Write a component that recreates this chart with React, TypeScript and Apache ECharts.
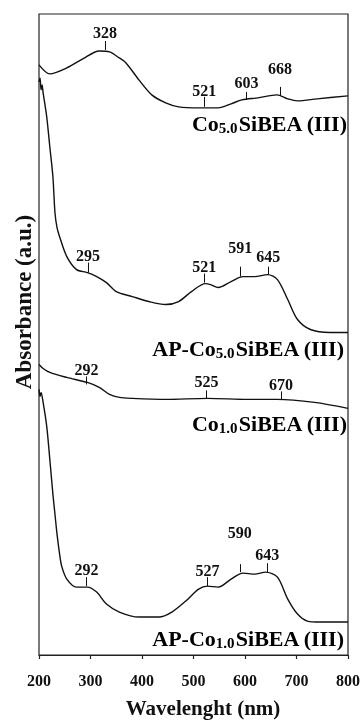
import React, { useEffect, useRef } from 'react';
import * as echarts from 'echarts';

// ---------- data (wavelength nm, absorbance a.u. with vertical offsets) ----------
const co50Wl = [200, 221, 254, 285, 317, 337, 356, 369, 394, 419, 446, 471, 510, 548, 573, 594, 625, 662, 683, 702, 740, 800];
const co50Abs = [2.955, 2.91, 2.94, 2.985, 3.025, 3.02, 2.99, 2.965, 2.88, 2.805, 2.765, 2.745, 2.74, 2.74, 2.76, 2.78, 2.79, 2.805, 2.785, 2.775, 2.785, 2.8];

const apCo50Wl = [200, 202, 204, 206, 208, 215, 221, 227, 231, 235, 240, 254, 273, 294, 312, 331, 350, 381, 413, 446, 471, 496, 523, 533, 548, 573, 596, 619, 644, 663, 683, 702, 727, 765, 800];
const apCo50Abs = [2.87, 2.89, 2.83, 2.855, 2.815, 2.695, 2.545, 2.395, 2.215, 2.14, 2.095, 1.995, 1.93, 1.915, 1.895, 1.865, 1.82, 1.795, 1.77, 1.755, 1.77, 1.82, 1.86, 1.855, 1.84, 1.87, 1.895, 1.895, 1.905, 1.88, 1.78, 1.68, 1.63, 1.615, 1.615];

const co10Wl = [200, 208, 221, 254, 294, 317, 337, 356, 381, 446, 527, 606, 662, 735, 800];
const co10Abs = [1.455, 1.435, 1.415, 1.39, 1.365, 1.34, 1.305, 1.29, 1.285, 1.28, 1.285, 1.28, 1.28, 1.265, 1.235];

const apCo10Wl = [200, 202, 204, 208, 215, 221, 227, 231, 235, 240, 244, 254, 273, 294, 312, 331, 356, 394, 433, 458, 485, 510, 527, 548, 573, 596, 619, 640, 663, 683, 702, 721, 746, 800];
const apCo10Abs = [1.33, 1.295, 1.315, 1.265, 1.145, 0.98, 0.805, 0.705, 0.605, 0.505, 0.445, 0.38, 0.34, 0.34, 0.315, 0.255, 0.215, 0.19, 0.19, 0.215, 0.27, 0.33, 0.345, 0.34, 0.38, 0.41, 0.405, 0.415, 0.39, 0.28, 0.205, 0.17, 0.165, 0.165];

// peak annotations: wavelength, tick low, tick high, label height
const co50Peaks = [328, 521, 603, 668];
const co50TickLow = [3.03, 2.745, 2.78, 2.8];
const co50TickHigh = [3.075, 2.795, 2.82, 2.845];
const co50LabelY = [3.115, 2.825, 2.865, 2.935];

const apCo50Peaks = [295, 521, 591, 645];
const apCo50TickLow = [1.915, 1.865, 1.895, 1.905];
const apCo50TickHigh = [1.965, 1.91, 1.945, 1.945];
const apCo50LabelY = [2.0, 1.945, 2.04, 1.995];

const co10Peaks = [292, 525, 670];
const co10TickLow = [1.355, 1.285, 1.28];
const co10TickHigh = [1.395, 1.325, 1.32];
const co10LabelY = [1.43, 1.37, 1.355];

const apCo10Peaks = [292, 527, 590, 643];
const apCo10TickLow = [0.345, 0.345, 0.415, 0.415];
const apCo10TickHigh = [0.39, 0.39, 0.455, 0.46];
const apCo10LabelY = [0.43, 0.425, 0.615, 0.505];

const xTicks = [200, 300, 400, 500, 600, 700, 800];
const xTitle = 'Wavelenght (nm)';
const yTitle = 'Absorbance (a.u.)';

const FONT = '"Liberation Serif", "Times New Roman", serif';
const INK = '#111';

function curve(wl: number[], abs: number[]) {
  return wl.map((w, i) => [w, abs[i]]);
}

function tickLines(peaks: number[], low: number[], high: number[]) {
  return peaks.map((p, i) => [{ coord: [p, low[i]] }, { coord: [p, high[i]] }]);
}

function labelPoints(peaks: number[], ys: number[]) {
  return peaks.map((p, i) => ({ value: [p, ys[i]], name: String(p) }));
}

export default function App() {
  const ref = useRef<HTMLDivElement>(null);

  useEffect(() => {
    if (!ref.current) return;
    const chart = echarts.init(ref.current, undefined, { renderer: 'svg' });

    const sets = [
      { wl: co50Wl, abs: co50Abs, pk: co50Peaks, lo: co50TickLow, hi: co50TickHigh, ly: co50LabelY },
      { wl: apCo50Wl, abs: apCo50Abs, pk: apCo50Peaks, lo: apCo50TickLow, hi: apCo50TickHigh, ly: apCo50LabelY },
      { wl: co10Wl, abs: co10Abs, pk: co10Peaks, lo: co10TickLow, hi: co10TickHigh, ly: co10LabelY },
      { wl: apCo10Wl, abs: apCo10Abs, pk: apCo10Peaks, lo: apCo10TickLow, hi: apCo10TickHigh, ly: apCo10LabelY },
    ];

    const series: any[] = [];
    sets.forEach((s) => {
      series.push({
        type: 'line',
        data: curve(s.wl, s.abs),
        showSymbol: false,
        smooth: 0.3,
        lineStyle: { color: INK, width: 1.4 },
        itemStyle: { color: INK },
        markLine: {
          silent: true,
          symbol: ['none', 'none'],
          lineStyle: { color: INK, width: 1, type: 'solid' },
          label: { show: false },
          data: tickLines(s.pk, s.lo, s.hi),
        },
      });
      series.push({
        type: 'scatter',
        data: labelPoints(s.pk, s.ly),
        symbolSize: 0.1,
        itemStyle: { color: 'rgba(0,0,0,0)', opacity: 1 },
        silent: true,
        label: {
          show: true,
          position: 'inside',
          formatter: '{b}',
          fontFamily: FONT,
          fontWeight: 'bold',
          fontSize: 16,
          color: INK,
          textBorderWidth: 0,
          textBorderColor: 'rgba(0,0,0,0)',
        },
      });
    });

    const sampleLabel = (pre: string, sub: string, post: string, y: number, right: number) => ({
      type: 'text',
      x: right,
      y,
      style: {
        text: `{m|${pre}}{s|${sub}}{m|${post}}`,
        textAlign: 'right',
        textVerticalAlign: 'middle',
        rich: {
          m: { fontFamily: FONT, fontWeight: 'bold', fontSize: 22, color: INK, lineHeight: 24 },
          s: { fontFamily: FONT, fontWeight: 'bold', fontSize: 15, color: INK, lineHeight: 10, verticalAlign: 'bottom' },
        },
      },
    });

    chart.setOption({
      animation: false,
      grid: {
        left: 39,
        right: 12,
        top: 14,
        bottom: 65,
        show: true,
        borderColor: '#222',
        borderWidth: 1.2,
        backgroundColor: 'transparent',
      },
      xAxis: {
        type: 'value',
        min: 200,
        max: 800,
        interval: 100,
        axisLine: { show: true, lineStyle: { color: '#222', width: 1.2 } },
        axisTick: { show: true, inside: false, length: 4, lineStyle: { color: '#222', width: 1.2 } },
        splitLine: { show: false },
        axisLabel: {
          margin: 17,
          fontFamily: FONT,
          fontWeight: 'bold',
          fontSize: 16,
          color: INK,
          formatter: (v: number) => (xTicks.includes(v) ? String(v) : ''),
        },
      },
      yAxis: {
        type: 'value',
        min: 0,
        max: 3.21,
        show: false,
      },
      graphic: [
        sampleLabel('Co', '5.0', 'SiBEA (III)', 123, 347),
        sampleLabel('AP-Co', '5.0', 'SiBEA (III)', 348, 344),
        sampleLabel('Co', '1.0', 'SiBEA (III)', 423, 347),
        sampleLabel('AP-Co', '1.0', 'SiBEA (III)', 638, 344),
        {
          type: 'text',
          x: 203,
          y: 708,
          style: {
            text: xTitle,
            font: `bold 21px ${FONT}`,
            fill: INK,
            textAlign: 'center',
            textVerticalAlign: 'middle',
          },
        },
        {
          type: 'text',
          x: 23,
          y: 302,
          rotation: Math.PI / 2,
          style: {
            text: yTitle,
            font: `bold 23px ${FONT}`,
            fill: INK,
            textAlign: 'center',
            textVerticalAlign: 'middle',
          },
        },
      ],
      series,
    });

    return () => chart.dispose();
  }, []);

  return (
    <div
      ref={ref}
      style={{ position: 'fixed', left: 0, top: 0, width: 363, height: 720, overflow: 'hidden' }}
    />
  );
}
